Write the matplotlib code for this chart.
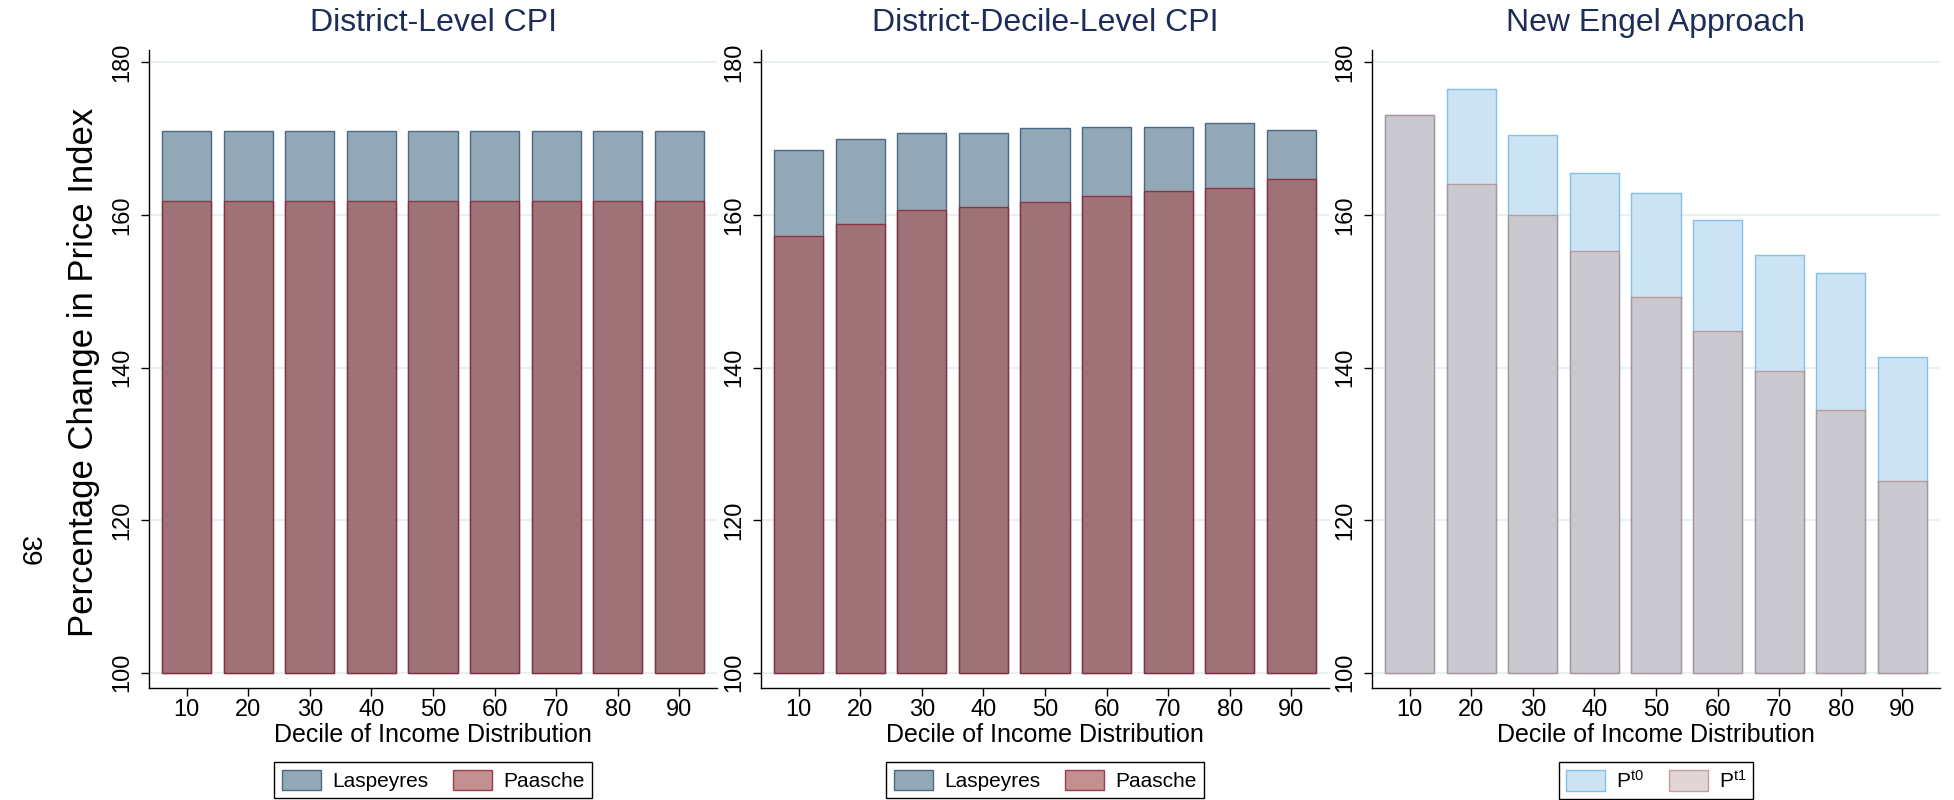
import matplotlib
matplotlib.use('Agg')
import matplotlib.pyplot as plt
import numpy as np

plt.rcParams['font.family'] = ['Liberation Sans', 'DejaVu Sans']
plt.rcParams['mathtext.fontset'] = 'custom'
plt.rcParams['mathtext.rm'] = 'Liberation Sans'
plt.rcParams['mathtext.it'] = 'Liberation Sans'

# ---- data ----
deciles = [10, 20, 30, 40, 50, 60, 70, 80, 90]
district_laspeyres = [171.0, 171.0, 171.0, 171.0, 171.0, 171.0, 171.0, 171.0, 171.0]
district_paasche = [161.8, 161.8, 161.8, 161.8, 161.8, 161.8, 161.8, 161.8, 161.8]
decile_laspeyres = [168.5, 170.0, 170.8, 170.7, 171.4, 171.6, 171.5, 172.1, 171.1]
decile_paasche = [157.2, 158.8, 160.6, 161.1, 161.7, 162.5, 163.2, 163.5, 164.7]
engel_pt0 = [173.1, 176.5, 170.5, 165.5, 162.9, 159.3, 154.8, 152.4, 141.4]
engel_pt1 = [173.1, 164.1, 160.0, 155.3, 149.3, 144.8, 139.6, 134.5, 125.2]

titles = ['District-Level CPI', 'District-Decile-Level CPI', 'New Engel Approach']
yticks = [100, 120, 140, 160, 180]
base = 100

# ---- styles ----
def rgb(r, g, b, a=1.0):
    return (r / 255, g / 255, b / 255, a)

las_face = rgb(147, 168, 182)
las_edge = rgb(72, 106, 134)
paa_face = rgb(166, 88, 90, 0.667)
paa_edge = rgb(140, 40, 55, 0.85)
pt0_face = rgb(204, 227, 243)
pt0_edge = rgb(132, 192, 234)
pt1_face = rgb(202, 180, 180, 0.55)
pt1_edge = rgb(180, 135, 135, 0.75)
title_color = '#1c2d5a'
grid_color = '#e8f0f2'

W, H = 1954, 800
fig = plt.figure(figsize=(W / 100, H / 100), dpi=100)

ax_left = [149, 761, 1372]
ax_w = 568
ax_top, ax_bot = 49.5, 688
bw = 8

axes = []
for i, xl in enumerate(ax_left):
    ax = fig.add_axes([xl / W, 1 - ax_bot / H, ax_w / W, (ax_bot - ax_top) / H])
    axes.append(ax)

series = [
    (district_laspeyres, district_paasche, ('Laspeyres', 'Paasche'),
     (las_face, las_edge), (paa_face, paa_edge)),
    (decile_laspeyres, decile_paasche, ('Laspeyres', 'Paasche'),
     (las_face, las_edge), (paa_face, paa_edge)),
    (engel_pt0, engel_pt1, (r'P$^{\mathrm{t0}}$', r'P$^{\mathrm{t1}}$'),
     (pt0_face, pt0_edge), (pt1_face, pt1_edge)),
]

for ax, (s1, s2, labs, st1, st2), title in zip(axes, series, titles):
    h1 = ax.bar(deciles, np.array(s1) - base, bottom=base, width=bw,
                facecolor=st1[0], edgecolor=st1[1], linewidth=1.0, label=labs[0], zorder=2)
    h2 = ax.bar(deciles, np.array(s2) - base, bottom=base, width=bw,
                facecolor=st2[0], edgecolor=st2[1], linewidth=1.0, label=labs[1], zorder=3)
    ax.set_xlim(3.9, 96.1)
    ax.set_ylim(98.0, 181.7)
    ax.set_yticks(yticks)
    ax.set_xticks(deciles)
    ax.yaxis.grid(True, color=grid_color, linewidth=1.5, zorder=0)
    ax.set_axisbelow(True)
    for sp in ['top', 'right']:
        ax.spines[sp].set_visible(False)
    for sp in ['left', 'bottom']:
        ax.spines[sp].set_linewidth(1.0)
        ax.spines[sp].set_color('black')
    ax.tick_params(axis='y', labelsize=17, length=6, width=1.0, pad=5, labelrotation=90)
    for t in ax.get_yticklabels():
        t.set_va('center')
    ax.tick_params(axis='x', labelsize=17, length=6, width=1.0, pad=2)
    ax.set_xlabel('Decile of Income Distribution', fontsize=18, labelpad=1)
    pos = ax.get_position()
    cx = pos.x0 + pos.width / 2
    fig.text(cx, 1 - 23 / H, title, ha='center', va='center', fontsize=23, color=title_color)
    leg = fig.legend(handles=[h1, h2], labels=list(labs), loc='upper center',
                     bbox_to_anchor=(cx, 1 - 752 / H), bbox_transform=fig.transFigure,
                     ncol=2, fontsize=15, frameon=True, fancybox=False, shadow=False,
                     framealpha=1, edgecolor='black', handlelength=1.9, handleheight=1.15,
                     handletextpad=0.5, columnspacing=1.2, borderpad=0.35)
    leg.get_frame().set_linewidth(1.0)

fig.text(84 / W, 1 - 372 / H, 'Percentage Change in Price Index', rotation=90,
         ha='center', va='center', fontsize=25)
fig.text(28 / W, 1 - 552 / H, '39', rotation=-90, ha='center', va='center', fontsize=20)

fig.savefig('out.png', dpi=100, facecolor='white')
